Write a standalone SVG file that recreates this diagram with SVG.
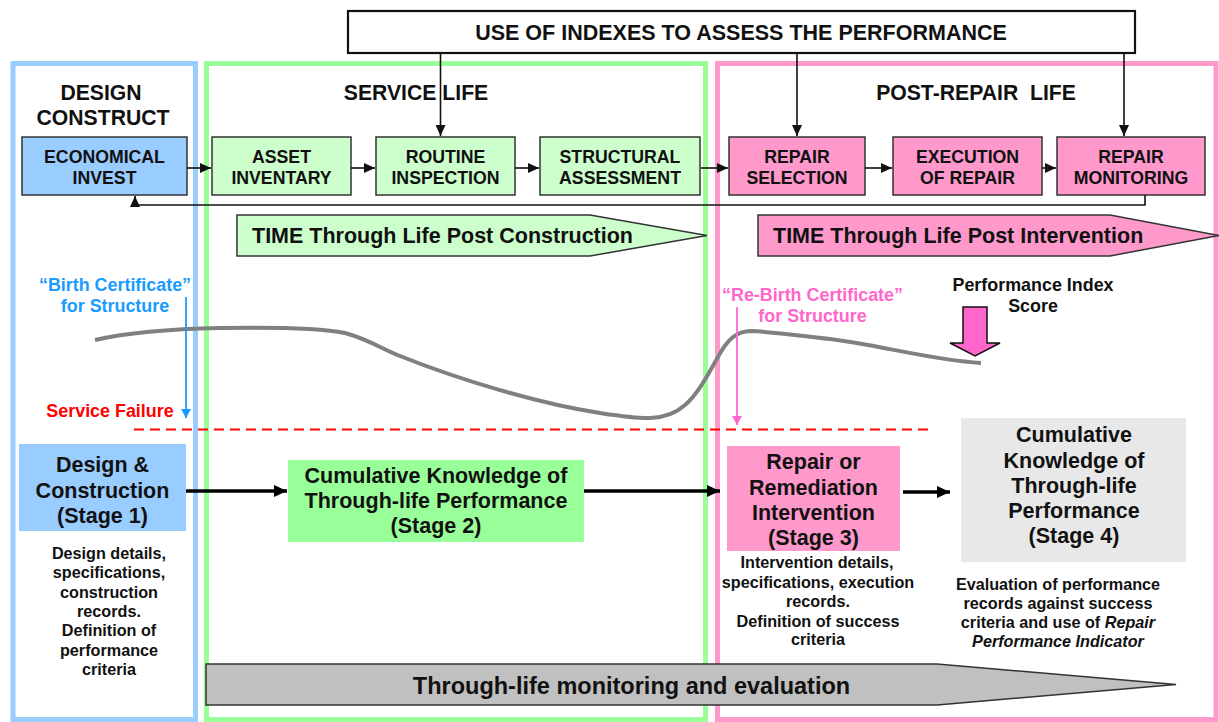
<svg xmlns="http://www.w3.org/2000/svg" width="1219" height="722" viewBox="0 0 1219 722">
<style>
text{font-family:"Liberation Sans",Arial,sans-serif;font-weight:bold;fill:#111;text-anchor:middle}
.t21{font-size:21.5px}
.big{font-size:23.5px}
.t20{font-size:21.2px}
.t18{font-size:17.7px}
.t17{font-size:17.9px}
.t16{font-size:16.2px}
.small{stroke:#333;stroke-width:1.5}
.conn{stroke:#111;stroke-width:1.6;fill:none}
.thick{stroke:#000;stroke-width:3.5;fill:none}
</style>
<defs>
<marker id="ah" markerUnits="userSpaceOnUse" markerWidth="12" markerHeight="10" refX="11" refY="5" orient="auto"><path d="M0,0 L11,5 L0,10 Z" fill="#111"/></marker>
<marker id="ahBig" markerUnits="userSpaceOnUse" markerWidth="14" markerHeight="12" refX="13" refY="6" orient="auto"><path d="M0,0 L13,6 L0,12 Z" fill="#000"/></marker>
<marker id="ahBlue" markerUnits="userSpaceOnUse" markerWidth="10" markerHeight="10" refX="9" refY="5" orient="auto"><path d="M0,0 L9,5 L0,10 Z" fill="#1a9bff"/></marker>
<marker id="ahPink" markerUnits="userSpaceOnUse" markerWidth="10" markerHeight="10" refX="9" refY="5" orient="auto"><path d="M0,0 L9,5 L0,10 Z" fill="#ff66cc"/></marker>
</defs>
<rect width="1219" height="722" fill="#fff"/>
<g id="panels">
<rect id="panel-design" x="13" y="63.5" width="182.5" height="656" fill="none" stroke="#99ccff" stroke-width="5"/>
<rect id="panel-service" x="206.5" y="63.5" width="499" height="656" fill="none" stroke="#99ff99" stroke-width="5"/>
<rect id="panel-post" x="717.5" y="63.5" width="498.5" height="656" fill="none" stroke="#ff99cc" stroke-width="5"/>
</g>
<g id="headers">
<text class="t20" x="101" y="100">DESIGN</text>
<text class="t20" x="103" y="125">CONSTRUCT</text>
<text class="t20" x="416" y="100">SERVICE LIFE</text>
<text class="t20" x="976" y="100" xml:space="preserve">POST-REPAIR  LIFE</text>
</g>
<g id="indexes">
<rect x="348" y="11" width="787" height="42" fill="#fff" stroke="#111" stroke-width="2.2"/>
<text class="t21" x="741" y="40">USE OF INDEXES TO ASSESS THE PERFORMANCE</text>
</g>
<g id="economical-invest"><rect class="small" x="22" y="137" width="165" height="58" fill="#99ccff"/><text class="t18" x="104.5" y="163">ECONOMICAL</text><text class="t18" x="104.5" y="184">INVEST</text></g>
<g id="asset-inventary"><rect class="small" x="212" y="137" width="139" height="58" fill="#ccffcc"/><text class="t18" x="281.5" y="163">ASSET</text><text class="t18" x="281.5" y="184">INVENTARY</text></g>
<g id="routine-inspection"><rect class="small" x="376" y="137" width="139" height="58" fill="#ccffcc"/><text class="t18" x="445.5" y="163">ROUTINE</text><text class="t18" x="445.5" y="184">INSPECTION</text></g>
<g id="structural-assessment"><rect class="small" x="540" y="137" width="160" height="58" fill="#ccffcc"/><text class="t18" x="620" y="163">STRUCTURAL</text><text class="t18" x="620" y="184">ASSESSMENT</text></g>
<g id="repair-selection"><rect class="small" x="729" y="137" width="136" height="58" fill="#ff99cc"/><text class="t18" x="797" y="163">REPAIR</text><text class="t18" x="797" y="184">SELECTION</text></g>
<g id="execution-of-repair"><rect class="small" x="893" y="137" width="149" height="58" fill="#ff99cc"/><text class="t18" x="967.5" y="163">EXECUTION</text><text class="t18" x="967.5" y="184">OF REPAIR</text></g>
<g id="repair-monitoring"><rect class="small" x="1057" y="137" width="148" height="58" fill="#ff99cc"/><text class="t18" x="1131" y="163">REPAIR</text><text class="t18" x="1131" y="184">MONITORING</text></g>
<g id="time-construction"><polygon points="237,215 590,215 707,235.5 590,256 237,256" fill="#ccffcc" stroke="#333" stroke-width="1.5"/><text class="t21" x="252" y="243" style="text-anchor:start">TIME Through Life Post Construction</text></g>
<g id="time-intervention"><polygon points="758,215 1110,215 1219,235.5 1110,256 758,256" fill="#ff99cc" stroke="#333" stroke-width="1.5"/><text class="t21" x="773" y="243" style="text-anchor:start">TIME Through Life Post Intervention</text></g>
<g id="curve"><path d="M95,340 C130,332 170,329 220,328 C280,327 320,328 345,333 C370,340 380,348 400,356 C460,380 540,404 600,413 C640,419 665,423 685,405 C700,392 710,370 722,350 C732,334 742,331 752,331 C775,332 800,336 830,339 C880,345 930,360 981,363" fill="none" stroke="#808080" stroke-width="4"/></g>
<g id="service-failure">
<line x1="134" y1="429.5" x2="928" y2="429.5" stroke="#ff0000" stroke-width="2" stroke-dasharray="10 6"/>
<text class="t17" x="110" y="417" style="fill:#ff0000">Service Failure</text>
</g>
<g id="birth-certificate">
<text class="t17" x="115" y="291" style="fill:#1a9bff">“Birth Certificate”</text>
<text class="t17" x="115" y="312" style="fill:#1a9bff">for Structure</text>
<line x1="186" y1="297" x2="186" y2="418" stroke="#1a9bff" stroke-width="1.8" marker-end="url(#ahBlue)"/>
</g>
<g id="rebirth-certificate">
<text class="t17" x="812.5" y="301" style="fill:#ff66cc">“Re-Birth Certificate”</text>
<text class="t17" x="812.5" y="322" style="fill:#ff66cc">for Structure</text>
<line x1="737" y1="307" x2="737" y2="425" stroke="#ff66cc" stroke-width="1.8" marker-end="url(#ahPink)"/>
</g>
<g id="performance-index">
<text class="t17" x="1033" y="291">Performance Index</text>
<text class="t17" x="1033" y="312">Score</text>
<polygon points="963,307 987,307 987,343 1000,343 975,356 950,343 963,343" fill="#ff66cc" stroke="#111" stroke-width="1.5"/>
</g>
<g id="stage1">
<rect x="19" y="444" width="167" height="87" fill="#99ccff"/>
<text class="t21" x="102.5" y="472">Design &amp;</text>
<text class="t21" x="102.5" y="498">Construction</text>
<text class="t21" x="102.5" y="523">(Stage 1)</text>
<g class="t16">
<text x="109" y="559">Design details,</text>
<text x="109" y="578">specifications,</text>
<text x="109" y="598">construction</text>
<text x="109" y="617">records.</text>
<text x="109" y="636">Definition of</text>
<text x="109" y="656">performance</text>
<text x="109" y="675">criteria</text>
</g>
</g>
<g id="stage2">
<rect x="288" y="460" width="296" height="82" fill="#99ff99"/>
<text class="t21" x="436" y="483">Cumulative Knowledge of</text>
<text class="t21" x="436" y="508">Through-life Performance</text>
<text class="t21" x="436" y="533">(Stage 2)</text>
</g>
<g id="stage3">
<rect x="727" y="446" width="173" height="105" fill="#ff99cc"/>
<text class="t21" x="813.5" y="469">Repair or</text>
<text class="t21" x="813.5" y="495">Remediation</text>
<text class="t21" x="813.5" y="520">Intervention</text>
<text class="t21" x="813.5" y="545">(Stage 3)</text>
<g class="t16">
<text x="817" y="568">Intervention details,</text>
<text x="818" y="588">specifications, execution</text>
<text x="818" y="607">records.</text>
<text x="818" y="627">Definition of success</text>
<text x="818" y="645">criteria</text>
</g>
</g>
<g id="stage4">
<rect x="961" y="418" width="225" height="144" fill="#e8e8e8"/>
<text class="t21" x="1074" y="442">Cumulative</text>
<text class="t21" x="1074" y="468">Knowledge of</text>
<text class="t21" x="1074" y="493">Through-life</text>
<text class="t21" x="1074" y="518">Performance</text>
<text class="t21" x="1074" y="543">(Stage 4)</text>
<g class="t16">
<text x="1058" y="590">Evaluation of performance</text>
<text x="1058" y="609">records against success</text>
<text x="1058" y="628">criteria and use of <tspan font-style="italic">Repair</tspan></text>
<text x="1058" y="647" font-style="italic">Performance Indicator</text>
</g>
</g>
<g id="monitoring">
<polygon points="206,664 937,664 1176,684.5 937,705 206,705" fill="#c0c0c0" stroke="#333" stroke-width="1.5"/>
<text class="big" x="631.5" y="694">Through-life monitoring and evaluation</text>
</g>
<g id="connectors">
<line class="conn" x1="440.5" y1="53" x2="440.5" y2="136" marker-end="url(#ah)"/>
<line class="conn" x1="797" y1="53" x2="797" y2="136" marker-end="url(#ah)"/>
<line class="conn" x1="1124" y1="53" x2="1124" y2="136" marker-end="url(#ah)"/>
<line class="conn" x1="187" y1="168" x2="211" y2="168" marker-end="url(#ah)"/>
<line class="conn" x1="351" y1="168" x2="375" y2="168" marker-end="url(#ah)"/>
<line class="conn" x1="515" y1="168" x2="539" y2="168" marker-end="url(#ah)"/>
<line class="conn" x1="701" y1="168" x2="728" y2="168" marker-end="url(#ah)"/>
<line class="conn" x1="865" y1="168" x2="892" y2="168" marker-end="url(#ah)"/>
<line class="conn" x1="1042" y1="168" x2="1056" y2="168" marker-end="url(#ah)"/>
<polyline class="conn" points="1145,195 1145,205 135,205 135,196" marker-end="url(#ah)"/>
<line class="thick" x1="186" y1="491" x2="287" y2="491" marker-end="url(#ahBig)"/>
<line class="thick" x1="584" y1="491" x2="720" y2="491" marker-end="url(#ahBig)"/>
<line class="thick" x1="903" y1="492" x2="950" y2="492" marker-end="url(#ahBig)"/>
</g>
</svg>
